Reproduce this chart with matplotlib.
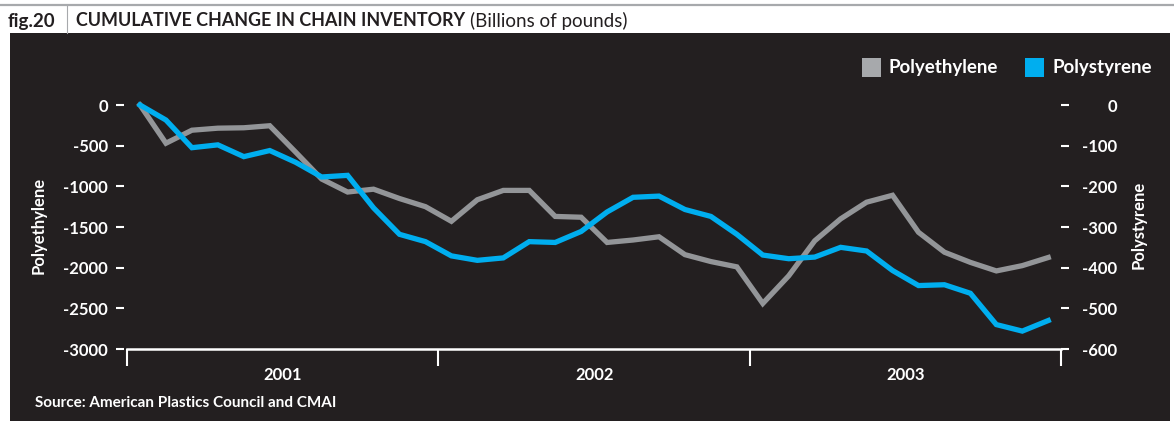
import matplotlib.pyplot as plt
from matplotlib.patches import Rectangle
from matplotlib.lines import Line2D
from matplotlib.ticker import FixedLocator, NullFormatter
import numpy as np

# monthly cumulative change, Jan 2001 - Dec 2003
polyethylene = [0, -470, -310, -285, -280, -255, -580, -910, -1070, -1035,
                -1150, -1250, -1430, -1165, -1050, -1050, -1370, -1380,
                -1690, -1660, -1620, -1840, -1925, -1990, -2440, -2100,
                -1670, -1400, -1195, -1110, -1565, -1810, -1935, -2040,
                -1975, -1875]
polystyrene = [0, -37, -105, -98, -127, -112, -141, -177, -173, -253,
               -318, -336, -371, -382, -376, -336, -338, -311, -263, -227,
               -224, -257, -274, -318, -369, -378, -374, -350, -359, -407,
               -444, -442, -463, -540, -556, -530]
years = ['2001', '2002', '2003']
pe_ticks = [0, -500, -1000, -1500, -2000, -2500, -3000]
ps_ticks = [0, -100, -200, -300, -400, -500, -600]

BG = '#231f20'
GRAY = '#939598'
BLUE = '#00aeef'
FONT = 'Lato'

W, H = 1174, 426
fig = plt.figure(figsize=(W / 100, H / 100), dpi=100)
fig.patch.set_facecolor('white')

def fx(px):
    return px / W

def fy(py):
    return 1 - py / H

# header band
fig.add_artist(Line2D([0, 1], [fy(5), fy(5)], color='#a7a9ac', lw=1.6))
fig.add_artist(Line2D([fx(67), fx(67)], [fy(5), fy(33)], color='#a7a9ac', lw=0.8))
fig.text(fx(8), fy(21), 'fig.20', fontsize=13.5, family=FONT, weight='bold',
         color='#231f20', va='center')
t = fig.text(fx(76), fy(21), 'CUMULATIVE CHANGE IN CHAIN INVENTORY', fontsize=12.9,
             family=FONT, weight='bold', color='#231f20', va='center')
fig.canvas.draw()
bb = t.get_window_extent()
fig.text(bb.x1 / W + fx(5), fy(21), '(Billions of pounds)', fontsize=13.5,
         family=FONT, color='#231f20', va='center')

# dark panel
fig.add_artist(Rectangle((fx(10), fy(421)), fx(1160), fy(33) - fy(421),
                         transform=fig.transFigure, facecolor=BG,
                         edgecolor='none', zorder=0))

# axes geometry: index 0 at x=140px, 26px per month; 0 at y=105px, -3000 at y=349px
x0, step = 140, 25.95
xmin, xmax = -0.6, 35.5
ytop_px, ybot_px = 105, 349
ax_left = x0 + xmin * step
ax_right = x0 + xmax * step
ax = fig.add_axes([fx(ax_left), fy(ybot_px), fx(ax_right - ax_left),
                   fy(ytop_px) - fy(ybot_px)])
ax.patch.set_alpha(0)
ax2 = ax.twinx()
ax2.patch.set_alpha(0)

xs = np.arange(len(polyethylene))
ax.plot(xs, polyethylene, color=GRAY, lw=3.8, clip_on=False,
        solid_joinstyle='miter', zorder=3)
ax2.plot(xs, polystyrene, color=BLUE, lw=3.8, clip_on=False,
         solid_joinstyle='miter', zorder=2)

ax.set_xlim(xmin, xmax)
ax.set_ylim(-3000, 0)
ax2.set_ylim(-600, 0)

for a in (ax, ax2):
    for s in a.spines.values():
        s.set_visible(False)

ax.spines['bottom'].set_visible(True)
ax.spines['bottom'].set_color('white')
ax.spines['bottom'].set_linewidth(1.8)
ax.spines['bottom'].set_bounds(-0.5, 35.5)

ax.set_yticks(pe_ticks)
ax.set_yticklabels([str(v) for v in pe_ticks])
ax2.set_yticks(ps_ticks)
ax2.set_yticklabels([str(v) for v in ps_ticks], ha='right')
ax.tick_params(axis='y', colors='white', length=6, width=1.5, pad=6,
               labelsize=12)
# right labels are right-aligned, so the pad reaches to their right edge
ax2.tick_params(axis='y', colors='white', length=6, width=1.5,
                pad=(1117 - ax_right) * 0.72 - 6, labelsize=12)

ax.xaxis.set_major_locator(FixedLocator([-0.5, 11.5, 23.5, 35.5]))
ax.xaxis.set_major_formatter(NullFormatter())
ax.xaxis.set_minor_locator(FixedLocator([5.5, 17.5, 29.5]))
ax.set_xticklabels(years, minor=True)
ax.tick_params(axis='x', which='major', colors='white', length=12, width=1.5)
ax.tick_params(axis='x', which='minor', length=0, pad=13, labelsize=12,
               labelcolor='white')

for lab in ax.get_yticklabels() + ax2.get_yticklabels() + ax.get_xticklabels(minor=True):
    lab.set_family(FONT)
    lab.set_weight('bold')

ax.set_ylabel('Polyethylene', color='white', fontsize=12, family=FONT,
              weight='bold')
ax.yaxis.set_label_coords((47 - ax_left) / (ax_right - ax_left),
                          (ybot_px - 225) / (ybot_px - ytop_px))
ax2.set_ylabel('Polystyrene', color='white', fontsize=12, family=FONT,
               weight='bold')
ax2.yaxis.set_label_coords((1131 - ax_left) / (ax_right - ax_left),
                           (ybot_px - 225) / (ybot_px - ytop_px))

# legend
leg_items = [(862, '#a7a9ac', 'Polyethylene'), (1025, BLUE, 'Polystyrene')]
for px, col, name in leg_items:
    fig.add_artist(Rectangle((fx(px), fy(77)), fx(19), fy(58) - fy(77),
                             transform=fig.transFigure, facecolor=col,
                             edgecolor='none'))
    fig.text(fx(px + 27), fy(67.5), name, fontsize=13.5, family=FONT,
             weight='bold', color='white', va='center')

fig.text(fx(35), fy(403), 'Source: American Plastics Council and CMAI',
         fontsize=11, family=FONT, weight='bold', color='white', va='center')

fig.savefig('out.png', dpi=100, facecolor=fig.get_facecolor())
